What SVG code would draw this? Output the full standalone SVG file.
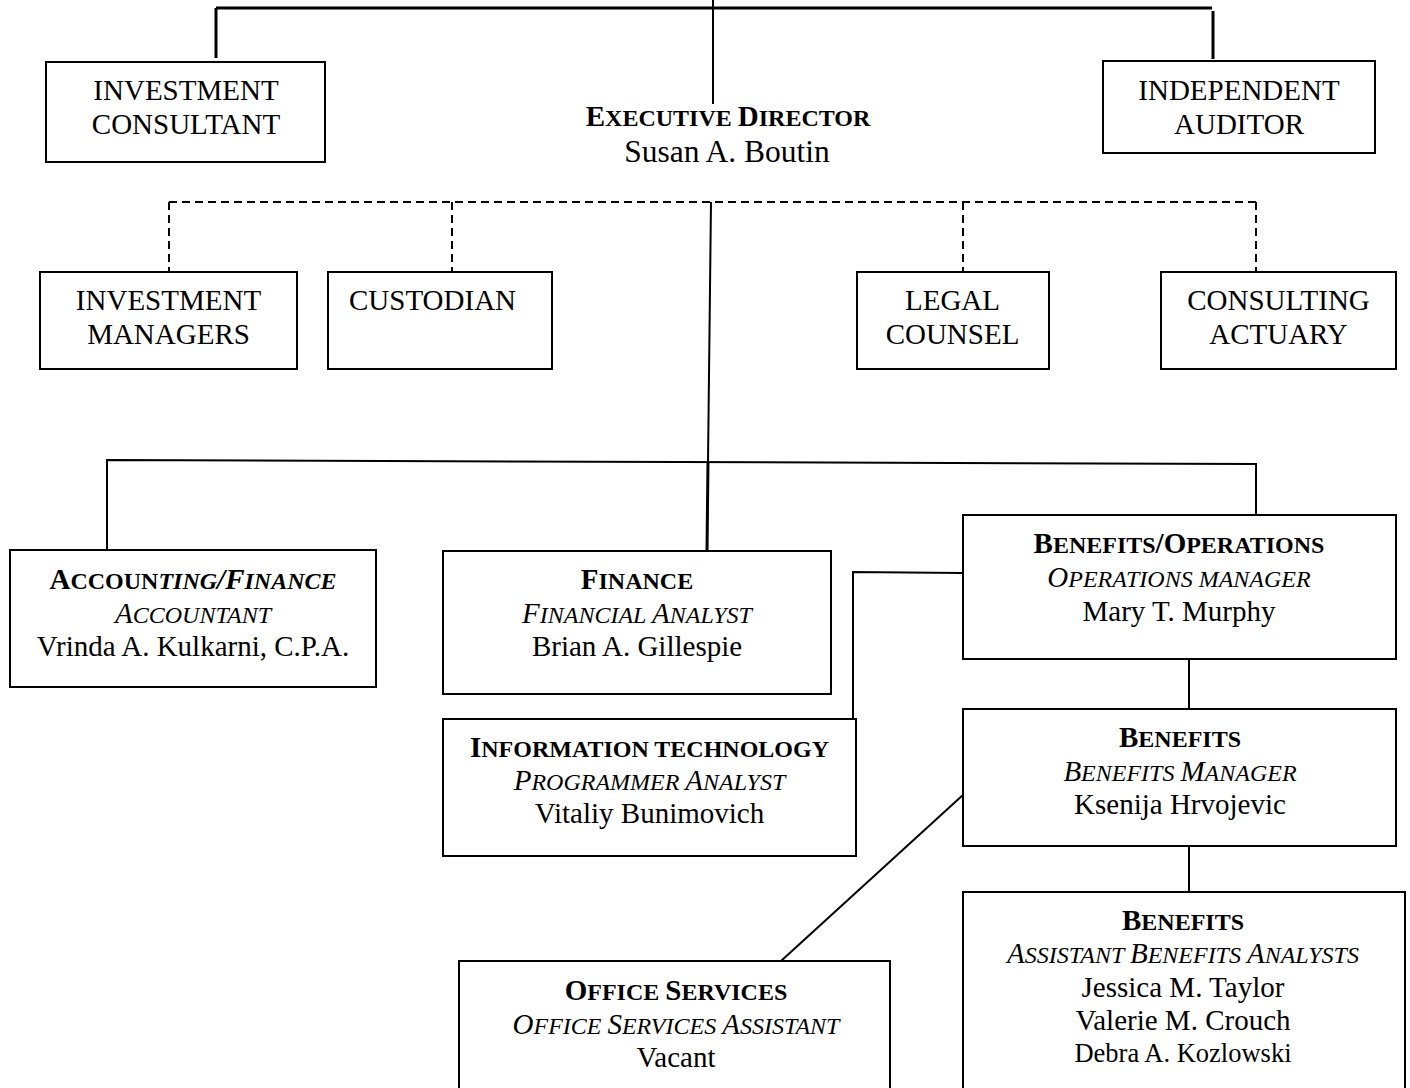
<svg xmlns="http://www.w3.org/2000/svg" width="1410" height="1088" viewBox="0 0 1410 1088">
<style>
.box{fill:#fff;stroke:#000;stroke-width:2}
.ln{fill:none;stroke:#000;stroke-width:2}
.thk{stroke-width:3}
.dash{fill:none;stroke:#000;stroke-width:2;stroke-dasharray:8 5}
.t{font-family:"Liberation Serif","Times New Roman",serif;font-size:29px;fill:#000;text-anchor:middle}
.b{font-weight:bold}
.i{font-style:italic}
.sc{font-size:24px}
.sm{font-size:26.5px}
.big{font-size:31.5px}
</style>
<rect width="1410" height="1088" fill="#fff"/>
<g id="connectors">
<line class="ln thk" x1="216" y1="8" x2="1212" y2="8"/>
<line class="ln thk" x1="216" y1="8" x2="216" y2="58"/>
<line class="ln thk" x1="1213" y1="11" x2="1213" y2="59"/>
<line class="ln" x1="713" y1="0" x2="713" y2="104"/>
<line class="dash" x1="169" y1="202" x2="1256" y2="202"/>
<line class="dash" x1="169" y1="202" x2="169" y2="271"/>
<line class="dash" x1="452" y1="202" x2="452" y2="271"/>
<line class="dash" x1="963" y1="202" x2="963" y2="271"/>
<line class="dash" x1="1256" y1="202" x2="1256" y2="271"/>
<line class="ln" x1="711" y1="202" x2="708" y2="462"/>
<line class="ln thk" x1="708" y1="462" x2="707" y2="551"/>
<polyline class="ln" points="107,550 107,460 1256,464 1256,515"/>
<polyline class="ln" points="853,720 853,572 962,573"/>
<line class="ln" x1="1189" y1="659" x2="1189" y2="709"/>
<line class="ln" x1="1189" y1="846" x2="1189" y2="892"/>
<line class="ln" x1="781" y1="961" x2="964" y2="794"/>
</g>
<g id="investment-consultant">
<rect class="box" x="46" y="62" width="279" height="100"/>
<text class="t" x="186" y="100">INVESTMENT</text>
<text class="t" x="186" y="134">CONSULTANT</text>
</g>
<g id="independent-auditor">
<rect class="box" x="1103" y="61" width="272" height="92"/>
<text class="t" x="1239" y="100">INDEPENDENT</text>
<text class="t" x="1239" y="134">AUDITOR</text>
</g>
<g id="executive-director">
<text class="t b" x="728" y="126">E<tspan class="sc">XECUTIVE </tspan>D<tspan class="sc">IRECTOR</tspan></text>
<text class="t big" x="727" y="162">Susan A. Boutin</text>
</g>
<g id="investment-managers">
<rect class="box" x="40" y="272" width="257" height="97"/>
<text class="t" x="168.5" y="310">INVESTMENT</text>
<text class="t" x="168.5" y="344">MANAGERS</text>
</g>
<g id="custodian">
<rect class="box" x="328" y="272" width="224" height="97"/>
<text class="t" x="349" y="310" style="text-anchor:start">CUSTODIAN</text>
</g>
<g id="legal-counsel">
<rect class="box" x="857" y="272" width="192" height="97"/>
<text class="t" x="952.5" y="310">LEGAL</text>
<text class="t" x="952.5" y="344">COUNSEL</text>
</g>
<g id="consulting-actuary">
<rect class="box" x="1161" y="272" width="235" height="97"/>
<text class="t" x="1278.5" y="310">CONSULTING</text>
<text class="t" x="1278.5" y="344">ACTUARY</text>
</g>
<g id="accounting-finance">
<rect class="box" x="10" y="550" width="366" height="137"/>
<text class="t b" x="193" y="589">A<tspan class="sc">CCOUN</tspan><tspan class="i sc">TING</tspan><tspan class="i">/F</tspan><tspan class="i sc">INANCE</tspan></text>
<text class="t i" x="193" y="623">A<tspan class="sc">CCOUNTANT</tspan></text>
<text class="t" x="193" y="656">Vrinda A. Kulkarni, C.P.A.</text>
</g>
<g id="finance">
<rect class="box" x="443" y="551" width="388" height="143"/>
<text class="t b" x="637" y="589">F<tspan class="sc">INANCE</tspan></text>
<text class="t i" x="637" y="623">F<tspan class="sc">INANCIAL </tspan>A<tspan class="sc">NALYST</tspan></text>
<text class="t" x="637" y="656">Brian A. Gillespie</text>
</g>
<g id="benefits-operations">
<rect class="box" x="963" y="515" width="433" height="144"/>
<text class="t b" x="1179" y="553">B<tspan class="sc">ENEFITS</tspan>/O<tspan class="sc">PERATIONS</tspan></text>
<text class="t i" x="1179" y="587">O<tspan class="sc">PERATIONS MANAGER</tspan></text>
<text class="t" x="1179" y="621">Mary T. Murphy</text>
</g>
<g id="information-technology">
<rect class="box" x="443" y="719" width="413" height="137"/>
<text class="t b" x="649.5" y="757">I<tspan class="sc">NFORMATION TECHNOLOGY</tspan></text>
<text class="t i" x="649.5" y="790">P<tspan class="sc">ROGRAMMER </tspan>A<tspan class="sc">NALYST</tspan></text>
<text class="t" x="649.5" y="823">Vitaliy Bunimovich</text>
</g>
<g id="benefits">
<rect class="box" x="963" y="709" width="433" height="137"/>
<text class="t b" x="1180" y="747">B<tspan class="sc">ENEFITS</tspan></text>
<text class="t i" x="1180" y="781">B<tspan class="sc">ENEFITS </tspan>M<tspan class="sc">ANAGER</tspan></text>
<text class="t" x="1180" y="814">Ksenija Hrvojevic</text>
</g>
<g id="office-services">
<rect class="box" x="459" y="961" width="431" height="140"/>
<text class="t b" x="676" y="1000">O<tspan class="sc">FFICE </tspan>S<tspan class="sc">ERVICES</tspan></text>
<text class="t i" x="676" y="1034">O<tspan class="sc">FFICE </tspan>S<tspan class="sc">ERVICES </tspan>A<tspan class="sc">SSISTANT</tspan></text>
<text class="t" x="676" y="1067">Vacant</text>
</g>
<g id="benefits-analysts">
<rect class="box" x="963" y="892" width="442" height="210"/>
<text class="t b" x="1183" y="930">B<tspan class="sc">ENEFITS</tspan></text>
<text class="t i" x="1183" y="963">A<tspan class="sc">SSISTANT </tspan>B<tspan class="sc">ENEFITS </tspan>A<tspan class="sc">NALYSTS</tspan></text>
<text class="t" x="1183" y="997">Jessica M. Taylor</text>
<text class="t" x="1183" y="1030">Valerie M. Crouch</text>
<text class="t sm" x="1183" y="1062">Debra A. Kozlowski</text>
</g>
</svg>
